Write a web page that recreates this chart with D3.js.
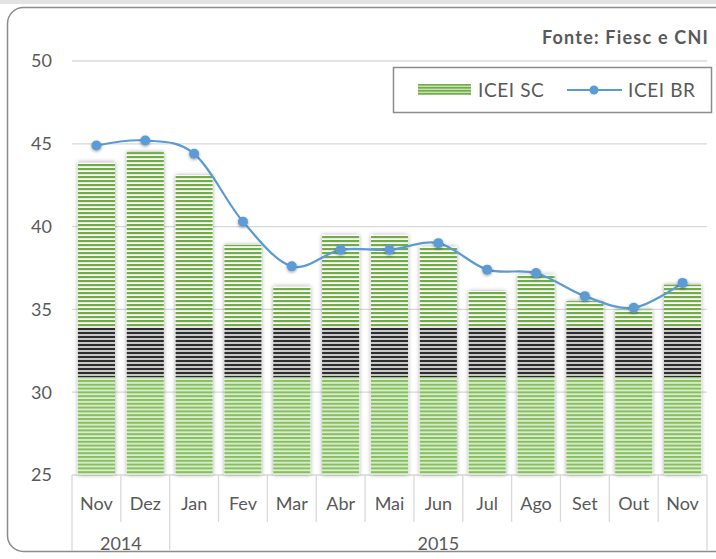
<!DOCTYPE html>
<html><head><meta charset="utf-8">
<script src="https://cdn.jsdelivr.net/npm/d3@7"></script>
<style>body{margin:0;background:#fff} svg{display:block}</style>
</head><body><svg id="c" width="716" height="559"></svg>
<script>
// ---- data ----
const months = ["Nov","Dez","Jan","Fev","Mar","Abr","Mai","Jun","Jul","Ago","Set","Out","Nov"];
const yearLabels = ["2014","2015"];
const yearStart = [0, 2];
const yearEnd = [1, 12];
const iceiSC = [43.9,44.5,43.1,38.9,36.4,39.5,39.5,38.8,36.1,37.1,35.5,35.0,36.5];
const iceiBR = [44.9,45.2,44.4,40.3,37.6,38.6,38.6,39.0,37.4,37.2,35.8,35.1,36.6];
const yTicks = [25,30,35,40,45,50];
const seriesNames = ["ICEI SC","ICEI BR"];
const sourceText = "Fonte: Fiesc e CNI";
const darkBand = [30.9, 33.9];

// ---- setup ----
const svg = d3.select("#c");
const font = "Lato, 'Open Sans', sans-serif";
const textColor = "#595959";
const green = "#70ad47", blue = "#5b9bd5";

const x = d3.scaleBand().domain(d3.range(months.length)).range([72, 707]).paddingInner(0.24).paddingOuter(0.12);
const y = d3.scaleLinear().domain([25, 50]).range([475, 61]);

const defs = svg.append("defs");
function stripe(id, c1, c2, h1, period){
  const p = defs.append("pattern").attr("id", id).attr("patternUnits","userSpaceOnUse")
    .attr("width", 8).attr("height", period);
  p.append("rect").attr("width",8).attr("height",period).attr("fill",c2);
  p.append("rect").attr("width",8).attr("height",h1).attr("fill",c1);
}
stripe("pTop", green, "#ffffff", 2.2, 4);
stripe("pLow", "#86bf60", "#dcedd0", 2, 3.8);
stripe("pDark", "#2e2e2e", "#c8c8c8", 2, 4);
stripe("pLeg", green, "#c5e0b4", 1.6, 3);
const f = defs.append("filter").attr("id","sh").attr("x","-30%").attr("y","-30%").attr("width","160%").attr("height","160%");
f.append("feDropShadow").attr("dx",0).attr("dy",0).attr("stdDeviation",2.2).attr("flood-color","#000").attr("flood-opacity",0.35);
const f2 = defs.append("filter").attr("id","sh2").attr("x","-50%").attr("y","-50%").attr("width","200%").attr("height","200%");
f2.append("feDropShadow").attr("dx",0).attr("dy",1).attr("stdDeviation",1.5).attr("flood-color","#000").attr("flood-opacity",0.4);

// background frame
svg.append("rect").attr("x",0).attr("y",0).attr("width",716).attr("height",4).attr("fill","#e3e3e3");
svg.append("rect").attr("x",7.5).attr("y",7.5).attr("width",730).attr("height",544).attr("rx",16)
  .attr("fill","#fff").attr("stroke","#8c8c8c").attr("stroke-width",1.5);

// gridlines
const x0 = x.range()[0], x1 = x.range()[1];
svg.append("g").selectAll("line").data(yTicks).join("line")
  .attr("x1", x0).attr("x2", x1).attr("y1", d=>y(d)).attr("y2", d=>y(d))
  .attr("stroke","#d9d9d9").attr("stroke-width",1.3);

// y tick labels
svg.append("g").selectAll("text").data(yTicks).join("text")
  .attr("x", 52).attr("y", d=>y(d)).attr("dy","0.36em").attr("text-anchor","end")
  .attr("font-family",font).attr("font-size",18).attr("fill",textColor).text(d=>d);

// bars
const bars = svg.append("g");
iceiSC.forEach((v,i)=>{
  const bx = x(i), bw = x.bandwidth();
  const g = bars.append("g");
  g.append("rect").attr("x",bx).attr("y",y(v)).attr("width",bw).attr("height",y(25)-y(v))
    .attr("fill","#fff").attr("filter","url(#sh)");
  g.append("rect").attr("x",bx).attr("y",y(v)).attr("width",bw).attr("height",y(darkBand[1])-y(v)).attr("fill","url(#pTop)");
  g.append("rect").attr("x",bx).attr("y",y(darkBand[1])).attr("width",bw).attr("height",y(darkBand[0])-y(darkBand[1])).attr("fill","url(#pDark)");
  g.append("rect").attr("x",bx).attr("y",y(darkBand[0])).attr("width",bw).attr("height",y(25)-y(darkBand[0])).attr("fill","url(#pLow)");
});

// line
const line = d3.line().x((d,i)=>x(i)+x.bandwidth()/2).y(d=>y(d)).curve(d3.curveCardinal.tension(0));
svg.append("path").datum(iceiBR).attr("d",line).attr("fill","none").attr("stroke",blue).attr("stroke-width",2.2);
svg.append("g").selectAll("circle").data(iceiBR).join("circle")
  .attr("cx",(d,i)=>x(i)+x.bandwidth()/2).attr("cy",d=>y(d)).attr("r",5)
  .attr("fill",blue).attr("filter","url(#sh2)");

// x axis category separators
const sepY0 = y(25);
const bounds = d3.range(months.length+1).map(i=> i<months.length ? x(i)-x.step()*x.paddingInner()/2 : x1);
const yearBounds = new Set([0, ...yearEnd.map(e=>e+1)]);
svg.append("g").selectAll("line").data(bounds).join("line")
  .attr("x1",d=>d).attr("x2",d=>d).attr("y1",sepY0)
  .attr("y2",(d,i)=> yearBounds.has(i) ? 551 : 522)
  .attr("stroke","#d9d9d9").attr("stroke-width",1.3);

svg.append("g").selectAll("text").data(months).join("text")
  .attr("x",(d,i)=>x(i)+x.bandwidth()/2).attr("y",510).attr("text-anchor","middle")
  .attr("font-family",font).attr("font-size",18).attr("fill",textColor).text(d=>d);

svg.append("g").selectAll("text").data(yearLabels).join("text")
  .attr("x",(d,i)=>(bounds[yearStart[i]]+bounds[yearEnd[i]+1])/2).attr("y",550).attr("text-anchor","middle")
  .attr("font-family",font).attr("font-size",18).attr("fill",textColor).text(d=>d);

// source
svg.append("text").attr("x",709).attr("y",44).attr("text-anchor","end")
  .attr("font-family",font).attr("font-size",18).attr("letter-spacing",1.2).attr("font-weight","bold").attr("fill",textColor).text(sourceText);

// legend
const lg = svg.append("g");
lg.append("rect").attr("x",393.5).attr("y",67.5).attr("width",318).attr("height",45)
  .attr("fill","#fff").attr("stroke","#8c8c8c").attr("stroke-width",1.5);
lg.append("rect").attr("x",418).attr("y",84).attr("width",53).attr("height",11).attr("fill","url(#pLeg)");
lg.append("text").attr("x",478).attr("y",97).attr("font-family",font).attr("font-size",19).attr("letter-spacing",0.6)
  .attr("fill",textColor).text(seriesNames[0]);
lg.append("line").attr("x1",567).attr("x2",622).attr("y1",90).attr("y2",90).attr("stroke",blue).attr("stroke-width",2.2);
lg.append("circle").attr("cx",594).attr("cy",90).attr("r",4.5).attr("fill",blue);
lg.append("text").attr("x",628).attr("y",97).attr("font-family",font).attr("font-size",19).attr("letter-spacing",0.6)
  .attr("fill",textColor).text(seriesNames[1]);
</script></body></html>
